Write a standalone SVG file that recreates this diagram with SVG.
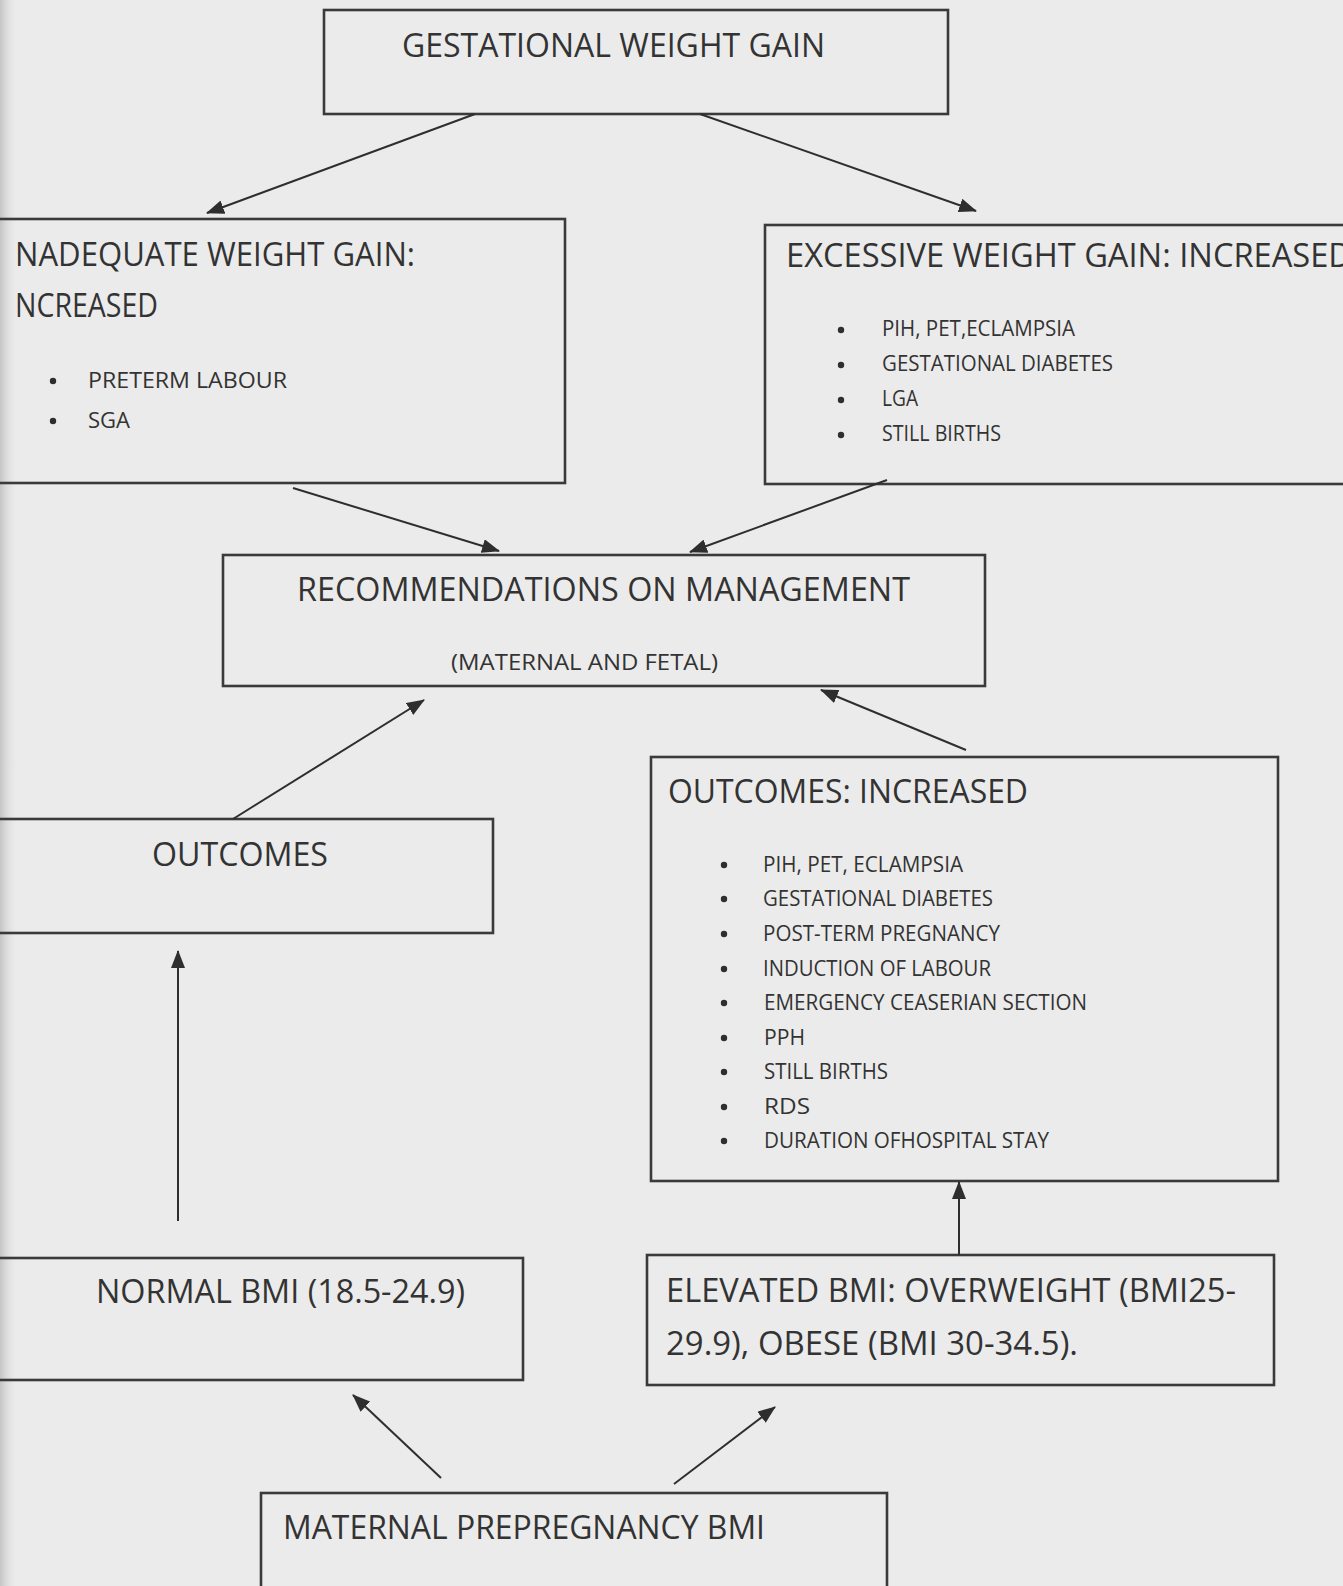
<svg xmlns="http://www.w3.org/2000/svg" width="1343" height="1586" viewBox="0 0 1343 1586">
<defs>
<linearGradient id="edge" x1="0" y1="0" x2="1" y2="0">
<stop offset="0" stop-color="#c4c4c4"/>
<stop offset="1" stop-color="#e9e9e9" stop-opacity="0"/>
</linearGradient>
<marker id="ah" markerUnits="userSpaceOnUse" markerWidth="18" markerHeight="14" viewBox="0 0 18 14" refX="17" refY="7" orient="auto">
<path d="M0,0 L18,7 L0,14 Z" fill="#2e2e2e"/>
</marker>
<style>
.box{fill:none;stroke:#3a3a3a;stroke-width:2.6}
.t{font-family:"Open Sans","Liberation Sans",Arial,sans-serif;fill:#333;font-size:32px}
.s{font-family:"Open Sans","Liberation Sans",Arial,sans-serif;fill:#333;font-size:21px}
.b{fill:#2e2e2e}
.c{stroke:#2e2e2e;stroke-width:2;fill:none;marker-end:url(#ah)}
</style>
</defs>
<rect width="1343" height="1586" fill="#ebebeb"/>
<rect width="18" height="1586" fill="url(#edge)"/>

<g id="gestational">
<rect class="box" x="324" y="10" width="624" height="104"/>
<text class="t" x="402" y="57" font-size="33" textLength="423" lengthAdjust="spacingAndGlyphs">GESTATIONAL WEIGHT GAIN</text>
</g>

<g id="inadequate">
<rect class="box" x="-10" y="219" width="575" height="264"/>
<text class="t" x="15" y="266" textLength="400" lengthAdjust="spacingAndGlyphs">NADEQUATE WEIGHT GAIN:</text>
<text class="t" x="15" y="317" textLength="143" lengthAdjust="spacingAndGlyphs">NCREASED</text>
<circle class="b" cx="53" cy="381" r="3.2"/>
<text class="s" x="88" y="388" textLength="199" lengthAdjust="spacingAndGlyphs">PRETERM  LABOUR</text>
<circle class="b" cx="53" cy="421" r="3.2"/>
<text class="s" x="88" y="428" textLength="42" lengthAdjust="spacingAndGlyphs">SGA</text>
</g>

<g id="excessive">
<rect class="box" x="765" y="225" width="600" height="259"/>
<text class="t" x="786" y="267" textLength="566" lengthAdjust="spacingAndGlyphs">EXCESSIVE WEIGHT GAIN: INCREASED</text>
<circle class="b" cx="841" cy="330" r="3.2"/>
<text class="s" x="882" y="336" textLength="193" lengthAdjust="spacingAndGlyphs">PIH, PET,ECLAMPSIA</text>
<circle class="b" cx="841" cy="365" r="3.2"/>
<text class="s" x="882" y="371" textLength="231" lengthAdjust="spacingAndGlyphs">GESTATIONAL DIABETES</text>
<circle class="b" cx="841" cy="400" r="3.2"/>
<text class="s" x="882" y="406" textLength="36" lengthAdjust="spacingAndGlyphs">LGA</text>
<circle class="b" cx="841" cy="435" r="3.2"/>
<text class="s" x="882" y="441" textLength="119" lengthAdjust="spacingAndGlyphs">STILL BIRTHS</text>
</g>

<g id="recommendations">
<rect class="box" x="223" y="555" width="762" height="131"/>
<text class="t" x="297" y="601" textLength="613" lengthAdjust="spacingAndGlyphs">RECOMMENDATIONS ON MANAGEMENT</text>
<text class="s" x="451" y="670" font-size="23" textLength="267" lengthAdjust="spacingAndGlyphs">(MATERNAL  AND FETAL)</text>
</g>

<g id="outcomes">
<rect class="box" x="-10" y="819" width="503" height="114"/>
<text class="t" x="152" y="866" textLength="176" lengthAdjust="spacingAndGlyphs">OUTCOMES</text>
</g>

<g id="outcomes-increased">
<rect class="box" x="651" y="757" width="627" height="424"/>
<text class="t" x="668" y="803" textLength="360" lengthAdjust="spacingAndGlyphs">OUTCOMES: INCREASED</text>
<circle class="b" cx="724" cy="865" r="3.2"/>
<text class="s" x="763" y="872" textLength="200" lengthAdjust="spacingAndGlyphs">PIH, PET, ECLAMPSIA</text>
<circle class="b" cx="724" cy="899" r="3.2"/>
<text class="s" x="763" y="906" textLength="230" lengthAdjust="spacingAndGlyphs">GESTATIONAL DIABETES</text>
<circle class="b" cx="724" cy="934" r="3.2"/>
<text class="s" x="763" y="941" textLength="237" lengthAdjust="spacingAndGlyphs">POST-TERM PREGNANCY</text>
<circle class="b" cx="724" cy="969" r="3.2"/>
<text class="s" x="763" y="976" textLength="228" lengthAdjust="spacingAndGlyphs">INDUCTION OF LABOUR</text>
<circle class="b" cx="724" cy="1003" r="3.2"/>
<text class="s" x="764" y="1010" textLength="323" lengthAdjust="spacingAndGlyphs">EMERGENCY CEASERIAN SECTION</text>
<circle class="b" cx="724" cy="1038" r="3.2"/>
<text class="s" x="764" y="1045" textLength="41" lengthAdjust="spacingAndGlyphs">PPH</text>
<circle class="b" cx="724" cy="1072" r="3.2"/>
<text class="s" x="764" y="1079" textLength="124" lengthAdjust="spacingAndGlyphs">STILL BIRTHS</text>
<circle class="b" cx="724" cy="1107" r="3.2"/>
<text class="s" x="764" y="1114" textLength="46" lengthAdjust="spacingAndGlyphs">RDS</text>
<circle class="b" cx="724" cy="1141" r="3.2"/>
<text class="s" x="764" y="1148" textLength="285" lengthAdjust="spacingAndGlyphs">DURATION OFHOSPITAL STAY</text>
</g>

<g id="normal-bmi">
<rect class="box" x="-10" y="1258" width="533" height="122"/>
<text class="t" x="96" y="1303" textLength="369" lengthAdjust="spacingAndGlyphs">NORMAL BMI (18.5-24.9)</text>
</g>

<g id="elevated-bmi">
<rect class="box" x="647" y="1255" width="627" height="130"/>
<text class="t" x="666" y="1302" textLength="570" lengthAdjust="spacingAndGlyphs">ELEVATED BMI: OVERWEIGHT (BMI25-</text>
<text class="t" x="666" y="1355" textLength="412" lengthAdjust="spacingAndGlyphs">29.9), OBESE (BMI 30-34.5).</text>
</g>

<g id="maternal-bmi">
<rect class="box" x="261" y="1493" width="626" height="110"/>
<text class="t" x="283" y="1539" textLength="482" lengthAdjust="spacingAndGlyphs">MATERNAL PREPREGNANCY BMI</text>
</g>

<g id="connectors">
<line class="c" x1="475" y1="114" x2="207" y2="213"/>
<line class="c" x1="700" y1="114" x2="976" y2="211"/>
<line class="c" x1="293" y1="488" x2="499" y2="551"/>
<line class="c" x1="887" y1="480" x2="690" y2="552"/>
<line class="c" x1="233" y1="819" x2="424" y2="700"/>
<line class="c" x1="966" y1="750" x2="821" y2="690"/>
<line class="c" x1="178" y1="1221" x2="178" y2="951"/>
<line class="c" x1="959" y1="1255" x2="959" y2="1182"/>
<line class="c" x1="441" y1="1478" x2="353" y2="1395"/>
<line class="c" x1="674" y1="1484" x2="775" y2="1407"/>
</g>
</svg>
